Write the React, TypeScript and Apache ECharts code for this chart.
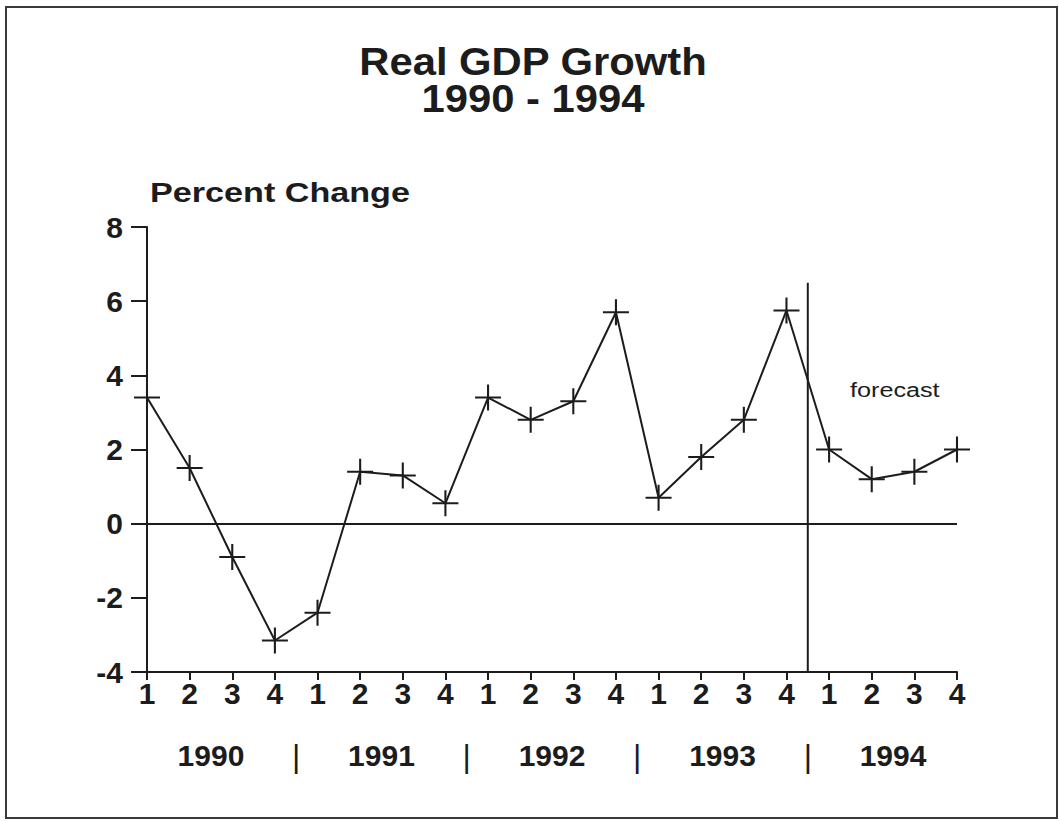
import React, { useEffect, useRef } from "react";
import * as echarts from "echarts";

const quarters = [
  "1", "2", "3", "4",
  "1", "2", "3", "4",
  "1", "2", "3", "4",
  "1", "2", "3", "4",
  "1", "2", "3", "4",
];
const years = ["1990", "1991", "1992", "1993", "1994"];
const growth = [
  3.4, 1.5, -0.9, -3.15,
  -2.4, 1.4, 1.3, 0.55,
  3.4, 2.8, 3.3, 5.7,
  0.7, 1.8, 2.8, 5.75,
  2.0, 1.2, 1.4, 2.0,
];
const yMin = -4;
const yMax = 8;
const yStep = 2;
const forecastAt = 15.5;
const forecastTop = 6.5;

const INK = "#1c1c1c";
const FONT = "'Liberation Sans', Arial, Helvetica, sans-serif";
const PLUS = "path://M0,9.2 H9.2 V0 H10.8 V9.2 H20 V10.8 H10.8 V20 H9.2 V10.8 H0 Z";

export default function App() {
  const ref = useRef<HTMLDivElement>(null);
  useEffect(() => {
    if (!ref.current) return;
    const chart = echarts.init(ref.current, undefined, { renderer: "svg" });
    const yearLabel = (v: number) => {
      const a = (v - 1.5) / 4;
      if (Number.isInteger(a) && a >= 0 && a < years.length) return years[a];
      const b = (v - 3.5) / 4;
      if (Number.isInteger(b) && b >= 0 && b < years.length - 1) return "{sep||}";
      return "";
    };
    chart.setOption({
      animation: false,
      backgroundColor: "#ffffff",
      textStyle: { fontFamily: FONT, color: INK },
      grid: { left: 147, right: 102, top: 227, bottom: 149, containLabel: false },
      xAxis: [
        {
          type: "category",
          data: quarters,
          boundaryGap: false,
          position: "bottom",
          axisLine: { show: true, onZero: false, lineStyle: { color: INK, width: 2 } },
          axisTick: { show: true, length: 8, lineStyle: { color: INK, width: 2 } },
          axisLabel: {
            interval: 0,
            margin: 6,
            fontSize: 30,
            fontWeight: "bold",
            fontFamily: FONT,
            color: INK,
          },
          splitLine: { show: false },
        },
        {
          type: "value",
          min: 0,
          max: quarters.length - 1,
          interval: 0.5,
          position: "bottom",
          axisLine: { show: false, onZero: false },
          axisTick: { show: false },
          splitLine: { show: false },
          axisLabel: {
            margin: 68,
            fontSize: 30,
            fontWeight: "bold",
            fontFamily: FONT,
            color: INK,
            showMinLabel: true,
            showMaxLabel: true,
            formatter: yearLabel,
            rich: {
              sep: { fontSize: 32, fontWeight: "normal", fontFamily: FONT, color: INK },
            },
          },
        },
      ],
      yAxis: {
        type: "value",
        min: yMin,
        max: yMax,
        interval: yStep,
        axisLine: { show: true, onZero: false, lineStyle: { color: INK, width: 2 } },
        axisTick: { show: true, length: 16, lineStyle: { color: INK, width: 2 } },
        axisLabel: {
          margin: 24,
          fontSize: 30,
          fontWeight: "bold",
          fontFamily: FONT,
          color: INK,
        },
        splitLine: { show: false },
      },
      series: [
        {
          type: "line",
          name: "Real GDP Growth",
          xAxisIndex: 0,
          yAxisIndex: 0,
          data: growth,
          symbol: PLUS,
          symbolSize: 26,
          showAllSymbol: true,
          lineStyle: { color: INK, width: 2 },
          itemStyle: { color: INK },
          z: 3,
          markLine: {
            silent: true,
            symbol: "none",
            label: { show: false },
            lineStyle: { color: INK, width: 2, type: "solid" },
            data: [{ yAxis: 0 }],
          },
        },
        {
          type: "line",
          name: "forecast divider",
          xAxisIndex: 1,
          yAxisIndex: 0,
          data: [
            [forecastAt, yMin],
            [forecastAt, forecastTop],
          ],
          symbol: "none",
          lineStyle: { color: INK, width: 2 },
          z: 2,
        },
      ],
      graphic: [
        {
          type: "rect",
          shape: { x: 6, y: 7, width: 1051, height: 811 },
          style: { fill: "none", stroke: "#3a3a3a", lineWidth: 2 },
          silent: true,
        },
        {
          type: "text",
          x: 533,
          y: 62,
          scaleX: 1.1,
          style: {
            text: "Real GDP Growth",
            font: `bold 38px ${FONT}`,
            fill: INK,
            textAlign: "center",
            textVerticalAlign: "middle",
          },
        },
        {
          type: "text",
          x: 533,
          y: 99,
          scaleX: 1.1,
          style: {
            text: "1990 - 1994",
            font: `bold 38px ${FONT}`,
            fill: INK,
            textAlign: "center",
            textVerticalAlign: "middle",
          },
        },
        {
          type: "text",
          x: 150,
          y: 193,
          scaleX: 1.22,
          style: {
            text: "Percent Change",
            font: `bold 28px ${FONT}`,
            fill: INK,
            textAlign: "left",
            textVerticalAlign: "middle",
          },
        },
        {
          type: "text",
          x: 850,
          y: 390,
          scaleX: 1.2,
          style: {
            text: "forecast",
            font: `21px ${FONT}`,
            fill: INK,
            textAlign: "left",
            textVerticalAlign: "middle",
          },
        },
      ],
    });
    return () => chart.dispose();
  }, []);
  return (
    <div
      ref={ref}
      style={{ position: "absolute", left: 0, top: 0, width: 1059, height: 821, background: "#fff" }}
    />
  );
}
